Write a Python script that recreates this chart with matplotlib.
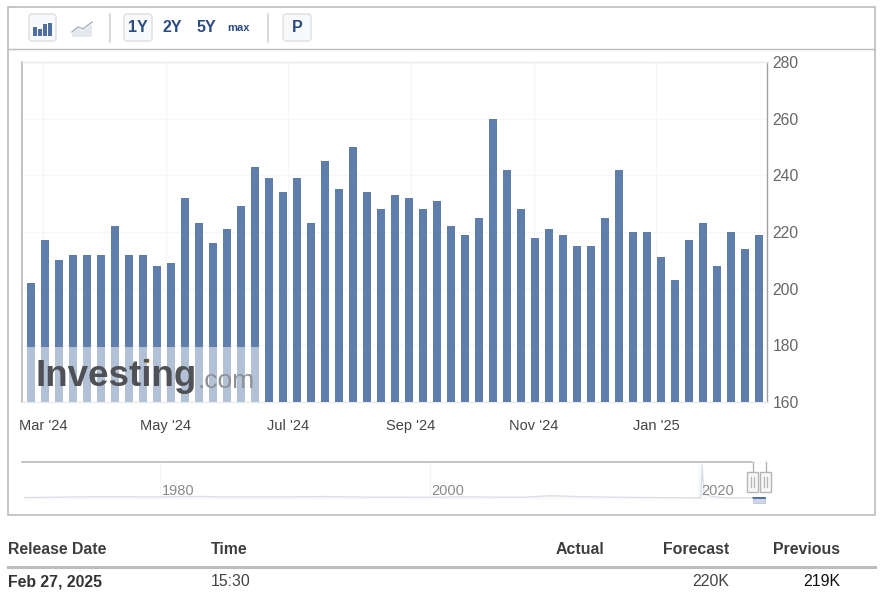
# weekly claims bar chart with the toolbar, navigator strip and release table
import matplotlib
matplotlib.use("Agg")
import matplotlib.pyplot as plt
from matplotlib.patches import FancyBboxPatch, Rectangle, Polygon

plt.rcParams["font.family"] = ["Liberation Sans", "DejaVu Sans"]

W, H = 882, 596

# claims in thousands, one bar per week
claims = [202, 217, 210, 212, 212, 212, 222, 212, 212, 208, 209, 232, 223,
          216, 221, 229, 243, 239, 234, 239, 223, 245, 235, 250, 234, 228, 233,
          232, 228, 231, 222, 219, 225, 260, 242, 228, 218, 221, 219, 215, 215,
          225, 242, 220, 220, 211, 203, 217, 223, 208, 220, 214, 219]
y_ticks = [160, 180, 200, 220, 240, 260, 280]
x_labels = ["Mar '24", "May '24", "Jul '24", "Sep '24", "Nov '24", "Jan '25"]

# navigator strip, long history
nav_years = [1970, 1975, 1980, 1983, 1985, 1990, 1992, 1995, 2000, 2002, 2005,
             2007, 2009, 2011, 2015, 2019, 2020.1, 2020.2, 2020.35, 2021, 2022, 2025]
nav_values = [250, 400, 380, 450, 360, 380, 440, 340, 300, 380, 330,
              310, 600, 420, 280, 215, 230, 6100, 900, 400, 210, 220]
nav_labels = ["1980", "2000", "2020"]
nav_label_years = [1980, 2000, 2020]

# table
headers = ["Release Date", "Time", "Actual", "Forecast", "Previous"]
row = ["Feb 27, 2025", "15:30", "", "220K", "219K"]

BAR = "#5f7eaa"
GRID = "#f5f6f7"
FRAME = "#bcbcbc"
BLUE = "#2a4b80"


def px_axes(fig, left, top, right, bottom):
    return fig.add_axes([left / W, 1 - bottom / H, (right - left) / W, (bottom - top) / H])


fig = plt.figure(figsize=(W / 100, H / 100), dpi=100)

# page layer in pixel coordinates
page = fig.add_axes([0, 0, 1, 1], zorder=0)
page.set_xlim(0, W)
page.set_ylim(H, 0)
page.axis("off")

page.add_patch(Rectangle((8, 7), 867, 508, fc="white", ec=FRAME, lw=1.2))
page.plot([8, 875], [48.5, 48.5], color=FRAME, lw=1)


def button(x0, x1):
    page.add_patch(FancyBboxPatch((x0, 14), x1 - x0, 27,
                                  boxstyle="round,pad=0,rounding_size=3",
                                  fc="#f8f9fa", ec="#e0e1e3", lw=1.1))


button(29, 56)
button(124, 152)
button(283, 311)
for xs in [110, 268]:
    page.plot([xs, xs], [14, 42], color="#cfd0d2", lw=1.1)

# bar icon
for x0, top in [(32.5, 27), (38, 29), (43, 24), (48, 23)]:
    page.add_patch(Rectangle((x0, top), 4, 36 - top, fc="#4f6f9f", ec="none"))
# area icon
page.add_patch(Polygon([(72, 33), (78, 29), (83, 31), (92, 24), (92, 37), (72, 37)],
                       fc="#e4e7ed", ec="none"))
page.plot([72, 78, 83, 92], [32, 27, 29, 22], color="#a5b0c0", lw=1)

for txt, xc, fs in [("1Y", 138, 11.5), ("2Y", 172, 11.5), ("5Y", 206, 11.5),
                    ("max", 239, 8), ("P", 297, 11.5)]:
    page.text(xc, 28, txt, color=BLUE, fontsize=fs, fontweight="bold", ha="center", va="center")

# main chart
ax = px_axes(fig, 22, 62, 767, 402)
ax.set_zorder(1)
ax.patch.set_alpha(0)
weeks = list(range(len(claims)))
ax.bar(weeks, claims, width=0.57, color=BAR, zorder=3)
ax.set_xlim(-0.62, 52.6)
ax.set_ylim(160, 280)
ax.yaxis.tick_right()
ax.set_yticks(y_ticks)
ax.set_xticks([0.88 + 8.76 * i for i in range(len(x_labels))])
ax.set_xticklabels(x_labels)
ax.grid(True, color=GRID, lw=1, zorder=0)
ax.tick_params(axis="both", length=0)
ax.tick_params(axis="y", labelsize=11.3, labelcolor="#666666", pad=4)
ax.tick_params(axis="x", labelsize=10.5, labelcolor="#444444", pad=12)
for name, sp in ax.spines.items():
    sp.set_color("#e9eaec")
    sp.set_linewidth(1)
ax.spines["left"].set_color(FRAME)
ax.spines["left"].set_linewidth(1.3)
ax.spines["right"].set_color("#a0a0a0")
ax.spines["right"].set_linewidth(1)

# watermark over the bars
over = fig.add_axes([0, 0, 1, 1], zorder=2)
over.set_xlim(0, W)
over.set_ylim(H, 0)
over.axis("off")
over.add_patch(Rectangle((26, 347), 233, 55, fc="white", alpha=0.52, ec="none"))
over.text(35, 377, "Investing", fontsize=26.5, fontweight="bold", color="#4f5156",
          ha="left", va="center")
over.text(198, 381, ".com", fontsize=19, color="#8d9097", ha="left", va="center")
over.add_patch(plt.Circle((147, 361), 2.6, fc="#efb84a", ec="none"))

# navigator
nav = px_axes(fig, 22, 462, 752, 499)
nav.set_zorder(1)
nav.patch.set_alpha(0)
nav.plot(nav_years, nav_values, color="#dbe0e7", lw=1)
nav.fill_between(nav_years, nav_values, 0, color="#f8f9fb", lw=0)
nav.set_xlim(1969.8, 2023.9)
nav.set_ylim(0, 6600)
nav.set_yticks([])
nav.set_xticks([])
for sp in ["left", "right", "bottom"]:
    nav.spines[sp].set_visible(False)
nav.spines["top"].set_color("#b5b5b5")
nav.spines["top"].set_linewidth(1.1)
for lab, yr in zip(nav_labels, nav_label_years):
    nav.axvline(yr, color="#f4f5f6", lw=1, zorder=0)
    nav.text(yr + 0.15, 0.22, lab, transform=nav.get_xaxis_transform(), color="#8a8a8a",
             fontsize=10.5, ha="left", va="center")

# navigator handles and selection
page.add_patch(Rectangle((753, 497), 12, 6, fc="#cfd8ea", ec="#b9c4d6", lw=0.6))
page.plot([753, 765], [498, 498], color="#3f5f95", lw=1.2)
page.plot([752.5, 752.5], [462, 474], color="#b5b5b5", lw=1)
page.plot([765.5, 765.5], [462, 474], color="#b5b5b5", lw=1)
for x0 in [747, 760]:
    page.add_patch(Rectangle((x0, 472), 11, 20, fc="#f7f7f7", ec="#b5b5b5", lw=1, zorder=5))
    for dx in [4.3, 6.7]:
        page.plot([x0 + dx, x0 + dx], [477, 487], color="#b5b5b5", lw=0.9, zorder=6)

# release table
page.plot([8, 875], [566.5, 566.5], color="#bcbcbc", lw=2.2)
aligns = [(8, "left"), (211, "left"), (604, "right"), (729, "right"), (840, "right")]
for (x, ha), head in zip(aligns, headers):
    page.text(x, 549, head, fontsize=11.4, fontweight="bold", color="#3d3d3d", ha=ha, va="center")
page.text(8, 582, row[0], fontsize=11.4, fontweight="bold", color="#333333", ha="left", va="center")
page.text(211, 582, row[1], fontsize=11.4, color="#444444", ha="left", va="center")
page.text(729, 582, row[3], fontsize=11.4, color="#444444", ha="right", va="center")
page.text(840, 582, row[4], fontsize=11.4, color="#111111", ha="right", va="center")

fig.savefig("out.png", dpi=100)
